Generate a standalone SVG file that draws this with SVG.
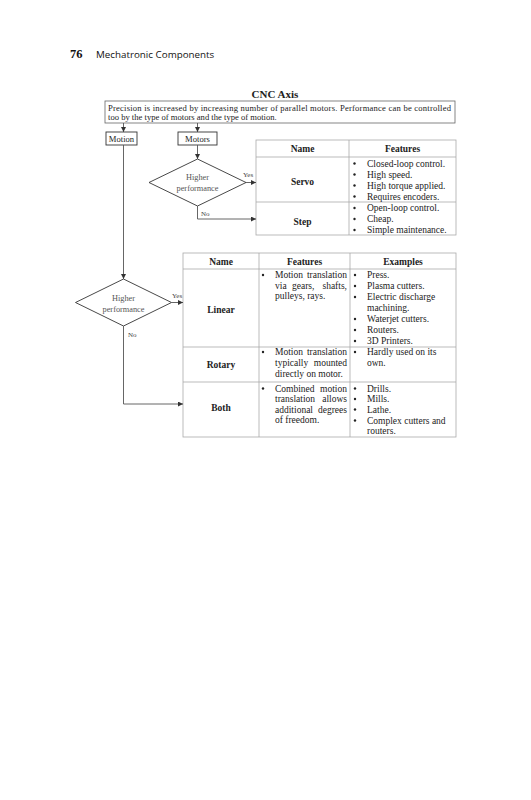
<svg xmlns="http://www.w3.org/2000/svg" width="531" height="800" viewBox="0 0 531 800">
<defs>
<style>
text{font-family:"Liberation Serif","Times New Roman",serif;font-size:9.5px;fill:#222}
.b{font-weight:bold}
.m{text-anchor:middle}
.e{text-anchor:end}
.sm{font-size:8.6px}
.lbl{font-size:7px;fill:#444}
.dtx{fill:#555;text-anchor:middle;font-size:8.3px}
.grid{fill:none;stroke:#aaa;stroke-width:0.8}
.box{fill:#fff;stroke:#333;stroke-width:0.9}
.con{fill:none;stroke:#555;stroke-width:0.9}
.bul{fill:#222}
</style>
<marker id="ah" viewBox="0 0 10 10" refX="10" refY="5" markerWidth="5" markerHeight="5" orient="auto" markerUnits="userSpaceOnUse">
<path d="M0,0 L10,5 L0,10 z" fill="#333"/>
</marker>
</defs>
<rect width="531" height="800" fill="#fff"/>

<g id="page-header">
<text x="70" y="58" style="font-family:'Liberation Serif',serif;font-size:12.5px;font-weight:bold;fill:#111">76</text>
<text x="96" y="58" style="font-family:'Open Sans','DejaVu Sans',sans-serif;font-size:9.8px;fill:#111">Mechatronic Components</text>
</g>

<g id="title">
<text x="275" y="98" class="b m" style="font-size:11px">CNC Axis</text>
</g>

<g id="intro">
<rect x="105" y="101" width="350" height="22" fill="#fff" stroke="#666" stroke-width="0.8"/>
<text x="108" y="110.5" class="sm" textLength="343" lengthAdjust="spacing">Precision is increased by increasing number of parallel motors. Performance can be controlled</text>
<text x="108" y="120" class="sm">too by the type of motors and the type of motion.</text>
</g>

<g id="motion">
<rect class="box" x="106" y="132" width="31" height="13"/>
<text x="121.5" y="141.5" class="m sm">Motion</text>
</g>

<g id="motors">
<rect class="box" x="178" y="132" width="39" height="13"/>
<text x="197.5" y="141.5" class="m sm">Motors</text>
</g>

<g id="decision-motors">
<polygon class="box" points="197.5,159 246,182.5 197.5,206 149,182.5"/>
<text x="197.5" y="180" class="dtx">Higher</text>
<text x="197.5" y="191" class="dtx">performance</text>
</g>

<g id="decision-motion">
<polygon class="box" points="123.5,279 171.5,302.5 123.5,326 75.5,302.5"/>
<text x="123.5" y="300.5" class="dtx">Higher</text>
<text x="123.5" y="311.5" class="dtx">performance</text>
</g>

<g id="motor-table">
<rect class="grid" x="256" y="140" width="200" height="95"/>
<line class="grid" x1="256" y1="157" x2="456" y2="157"/>
<line class="grid" x1="256" y1="202" x2="456" y2="202"/>
<line class="grid" x1="349" y1="140" x2="349" y2="235"/>
<text x="302.5" y="152" class="b m">Name</text>
<text x="402.5" y="152" class="b m">Features</text>
<text x="302.5" y="185" class="b m">Servo</text>
<text x="302.5" y="225" class="b m">Step</text>
<circle class="bul" cx="354.5" cy="163.5" r="1.2"/>
<circle class="bul" cx="354.5" cy="174.5" r="1.2"/>
<circle class="bul" cx="354.5" cy="185.5" r="1.2"/>
<circle class="bul" cx="354.5" cy="196.5" r="1.2"/>
<circle class="bul" cx="354.5" cy="208" r="1.2"/>
<circle class="bul" cx="354.5" cy="219" r="1.2"/>
<circle class="bul" cx="354.5" cy="230" r="1.2"/>
<text x="367" y="166.5">Closed-loop control.</text>
<text x="367" y="177.5">High speed.</text>
<text x="367" y="188.5">High torque applied.</text>
<text x="367" y="199.5">Requires encoders.</text>
<text x="367" y="211">Open-loop control.</text>
<text x="367" y="222">Cheap.</text>
<text x="367" y="233">Simple maintenance.</text>
</g>

<g id="motion-table">
<rect class="grid" x="183" y="253" width="273" height="184"/>
<line class="grid" x1="183" y1="269" x2="456" y2="269"/>
<line class="grid" x1="183" y1="347" x2="456" y2="347"/>
<line class="grid" x1="183" y1="382" x2="456" y2="382"/>
<line class="grid" x1="259" y1="253" x2="259" y2="437"/>
<line class="grid" x1="350" y1="253" x2="350" y2="437"/>
<text x="221" y="265" class="b m">Name</text>
<text x="304.5" y="265" class="b m">Features</text>
<text x="403" y="265" class="b m">Examples</text>
<text x="221" y="313" class="b m">Linear</text>
<text x="221" y="368" class="b m">Rotary</text>
<text x="221" y="411" class="b m">Both</text>
<circle class="bul" cx="263" cy="275" r="1.2"/>
<text x="275" y="278">Motion</text><text x="347" y="278" class="e">translation</text>
<text x="275" y="288.5">via</text><text x="292" y="288.5">gears,</text><text x="347" y="288.5" class="e">shafts,</text>
<text x="275" y="299">pulleys, rays.</text>
<circle class="bul" cx="263" cy="352" r="1.2"/>
<text x="275" y="355">Motion</text><text x="347" y="355" class="e">translation</text>
<text x="275" y="365.5">typically</text><text x="347" y="365.5" class="e">mounted</text>
<text x="275" y="376.5">directly on motor.</text>
<circle class="bul" cx="263" cy="388.5" r="1.2"/>
<text x="275" y="391.5">Combined</text><text x="347" y="391.5" class="e">motion</text>
<text x="275" y="402">translation</text><text x="347" y="402" class="e">allows</text>
<text x="275" y="412.5">additional</text><text x="347" y="412.5" class="e">degrees</text>
<text x="275" y="423">of freedom.</text>
<circle class="bul" cx="355" cy="275" r="1.2"/>
<circle class="bul" cx="355" cy="286" r="1.2"/>
<circle class="bul" cx="355" cy="297" r="1.2"/>
<circle class="bul" cx="355" cy="319" r="1.2"/>
<circle class="bul" cx="355" cy="330" r="1.2"/>
<circle class="bul" cx="355" cy="341" r="1.2"/>
<circle class="bul" cx="355" cy="352" r="1.2"/>
<circle class="bul" cx="355" cy="388.5" r="1.2"/>
<circle class="bul" cx="355" cy="399" r="1.2"/>
<circle class="bul" cx="355" cy="409.5" r="1.2"/>
<circle class="bul" cx="355" cy="420.5" r="1.2"/>
<text x="367" y="278">Press.</text>
<text x="367" y="289">Plasma cutters.</text>
<text x="367" y="300">Electric discharge</text>
<text x="367" y="311">machining.</text>
<text x="367" y="322">Waterjet cutters.</text>
<text x="367" y="333">Routers.</text>
<text x="367" y="344">3D Printers.</text>
<text x="367" y="355">Hardly used on its</text>
<text x="367" y="366">own.</text>
<text x="367" y="391.5">Drills.</text>
<text x="367" y="402">Mills.</text>
<text x="367" y="412.5">Lathe.</text>
<text x="367" y="423.5">Complex cutters and</text>
<text x="367" y="434">routers.</text>
</g>

<g id="connectors">
<line class="con" x1="123.5" y1="123" x2="123.5" y2="132" marker-end="url(#ah)"/>
<line class="con" x1="197.5" y1="123" x2="197.5" y2="132" marker-end="url(#ah)"/>
<line class="con" x1="197.5" y1="145" x2="197.5" y2="159" marker-end="url(#ah)"/>
<line class="con" x1="246" y1="182.5" x2="256" y2="182.5" marker-end="url(#ah)"/>
<polyline class="con" points="197.5,206 197.5,219 256,219" marker-end="url(#ah)"/>
<line class="con" x1="123.5" y1="145" x2="123.5" y2="279" marker-end="url(#ah)"/>
<line class="con" x1="171.5" y1="302.5" x2="183" y2="302.5" marker-end="url(#ah)"/>
<polyline class="con" points="123.5,326 123.5,404 183,404" marker-end="url(#ah)"/>
<text x="243" y="177" class="lbl">Yes</text>
<text x="201" y="216" class="lbl">No</text>
<text x="172" y="297.5" class="lbl">Yes</text>
<text x="128" y="337" class="lbl">No</text>
</g>
</svg>
